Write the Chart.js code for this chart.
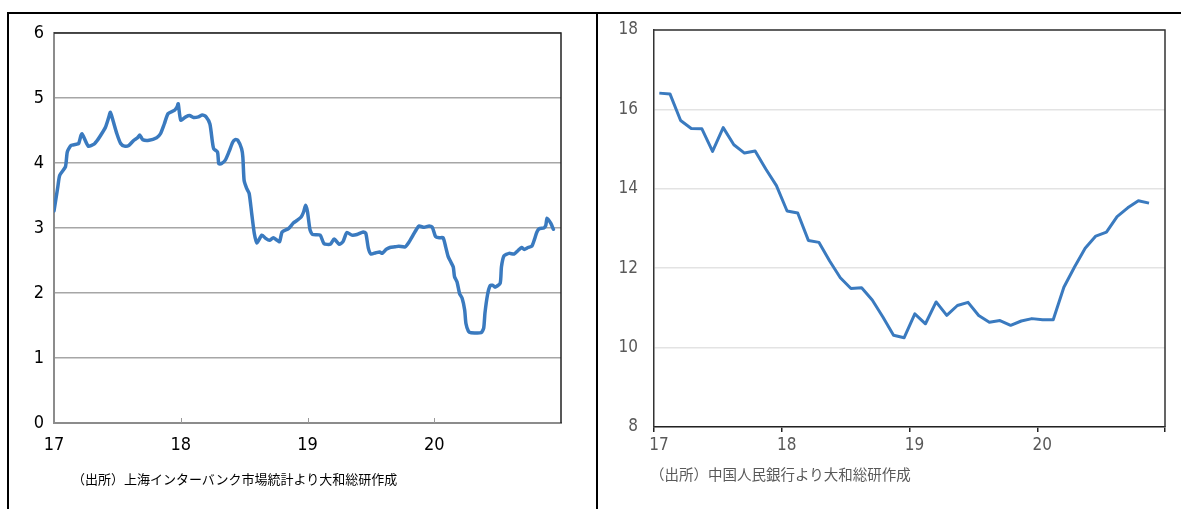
<!DOCTYPE html>
<html><head><meta charset="utf-8">
<script src="https://cdn.jsdelivr.net/npm/chart.js@4.4.1/dist/chart.umd.min.js"></script>
<style>
html,body{margin:0;padding:0;background:#fff;width:1181px;height:509px;overflow:hidden;position:relative;}
canvas{position:absolute;top:0;}
.ln{position:absolute;background:#000;}
.cap{position:absolute;font-family:"Noto Sans CJK JP",sans-serif;white-space:nowrap;}
</style></head><body>
<canvas id="c1" width="597" height="509" style="left:0;width:597px;height:509px"></canvas>
<canvas id="c2" width="583" height="509" style="left:598px;width:583px;height:509px"></canvas>
<div class="ln" style="left:8px;top:12px;width:1173px;height:2px"></div>
<div class="ln" style="left:7px;top:12px;width:2px;height:497px"></div>
<div class="ln" style="left:596px;top:12px;width:2px;height:497px"></div>
<div class="cap" style="left:72px;top:469px;font-size:13px;color:#000">（出所）上海インターバンク市場統計より大和総研作成</div>
<div class="cap" style="left:650px;top:463px;font-size:14.5px;color:#595959">（出所）中国人民銀行より大和総研作成</div>
<script>
// Left panel: interbank rate (%), x = fractional year
const leftDates = [2017.00,2017.03,2017.045,2017.09,2017.105,2017.135,2017.18,2017.195,2017.22,2017.27,2017.316,2017.346,2017.376,2017.406,2017.43,2017.445,2017.466,2017.496,2017.526,2017.556,2017.59,2017.63,2017.66,2017.677,2017.70,2017.75,2017.81,2017.84,2017.87,2017.90,2017.95,2017.97,2017.98,2018.00,2018.04,2018.07,2018.10,2018.14,2018.17,2018.20,2018.23,2018.25,2018.26,2018.29,2018.30,2018.32,2018.35,2018.38,2018.41,2018.43,2018.45,2018.48,2018.49,2018.50,2018.52,2018.54,2018.56,2018.58,2018.60,2018.64,2018.67,2018.70,2018.73,2018.76,2018.78,2018.80,2018.85,2018.89,2018.92,2018.95,2018.97,2018.985,2019.00,2019.02,2019.04,2019.10,2019.13,2019.18,2019.21,2019.25,2019.28,2019.31,2019.35,2019.39,2019.44,2019.46,2019.48,2019.50,2019.54,2019.57,2019.59,2019.62,2019.65,2019.69,2019.72,2019.77,2019.80,2019.83,2019.86,2019.88,2019.92,2019.96,2019.985,2020.01,2020.04,2020.07,2020.09,2020.11,2020.13,2020.15,2020.16,2020.18,2020.20,2020.22,2020.24,2020.25,2020.27,2020.29,2020.37,2020.39,2020.40,2020.42,2020.44,2020.46,2020.48,2020.52,2020.53,2020.55,2020.59,2020.63,2020.66,2020.69,2020.71,2020.74,2020.77,2020.79,2020.81,2020.83,2020.865,2020.88,2020.89,2020.92,2020.94];
const leftRates = [3.26,3.63,3.81,3.94,4.17,4.27,4.29,4.30,4.45,4.26,4.29,4.36,4.45,4.55,4.69,4.78,4.65,4.45,4.30,4.26,4.27,4.35,4.39,4.43,4.36,4.35,4.39,4.45,4.60,4.76,4.81,4.86,4.91,4.66,4.71,4.73,4.70,4.71,4.74,4.71,4.60,4.32,4.22,4.17,3.99,3.99,4.04,4.17,4.32,4.36,4.35,4.22,4.09,3.73,3.61,3.53,3.22,2.92,2.77,2.89,2.84,2.81,2.85,2.81,2.79,2.94,2.99,3.08,3.12,3.17,3.25,3.35,3.25,2.97,2.90,2.89,2.76,2.75,2.83,2.75,2.79,2.93,2.89,2.90,2.94,2.92,2.69,2.60,2.62,2.63,2.61,2.67,2.70,2.71,2.72,2.71,2.78,2.88,2.98,3.03,3.01,3.03,3.01,2.87,2.85,2.85,2.71,2.56,2.48,2.40,2.25,2.17,1.99,1.92,1.74,1.53,1.41,1.39,1.39,1.46,1.69,1.97,2.11,2.12,2.09,2.15,2.40,2.57,2.61,2.60,2.65,2.70,2.67,2.70,2.72,2.82,2.94,2.99,3.00,3.04,3.15,3.07,2.98];
const leftTicks = [0,1,2,3,4,5,6];

// Right panel: monthly growth (%), Jan 2017 .. Nov 2020
const rightStartYear = 2017;
const rightValues = [16.41,16.39,15.72,15.52,15.51,14.94,15.54,15.11,14.90,14.95,14.50,14.08,13.44,13.39,12.70,12.65,12.18,11.76,11.49,11.51,11.20,10.77,10.31,10.25,10.85,10.60,11.15,10.81,11.06,11.14,10.81,10.64,10.68,10.56,10.67,10.73,10.70,10.70,11.52,12.03,12.50,12.81,12.91,13.30,13.52,13.70,13.64];
const rightTicks = [8,10,12,14,16,18];
const yearTicks = [2017,2018,2019,2020,2021];

const BLUE = '#3a7abf';
const NARROW = "'Liberation Sans Narrow','DejaVu Sans Condensed',sans-serif";

const framePlugin = {
  id:'frame',
  afterDraw(chart, args, opts){
    const {ctx, chartArea:a} = chart;
    ctx.save();
    ctx.strokeStyle = opts.color; ctx.lineWidth = opts.width;
    ctx.beginPath();
    ctx.moveTo(a.left, a.top); ctx.lineTo(a.right, a.top); ctx.lineTo(a.right, a.bottom);
    ctx.stroke();
    if (opts.innerTicks) {
      const xs = chart.scales.x;
      ctx.strokeStyle = opts.innerTickColor; ctx.lineWidth = 1;
      for (const v of yearTicks.slice(1,-1)) {
        const px = Math.round(xs.getPixelForValue(v)) + 0.5;
        ctx.beginPath(); ctx.moveTo(px, a.bottom); ctx.lineTo(px, a.bottom - 5); ctx.stroke();
      }
    }
    ctx.restore();
  }
};

new Chart(document.getElementById('c1'), {
  type:'line',
  data:{datasets:[{data:leftDates.map((d,i)=>({x:d,y:leftRates[i]})),borderColor:BLUE,borderWidth:3.5,pointRadius:0,tension:0.2,borderJoinStyle:'round',borderCapStyle:'round'}]},
  options:{
    responsive:false, animation:false,
    layout:{padding:{left:10,right:36,top:33,bottom:46}},
    plugins:{legend:{display:false},tooltip:{enabled:false},frame:{color:'#222',width:1.5,innerTicks:true,innerTickColor:'#999'}},
    scales:{
      x:{type:'linear',min:2017,max:2021,afterFit:s=>{s.height=40;},
        afterBuildTicks:s=>{s.ticks=yearTicks.map(v=>({value:v}));},
        ticks:{callback:v=>v<2021?String(v-2000):'',color:'#000',font:{family:NARROW,size:18},padding:4,maxRotation:0,autoSkip:false},
        grid:{display:false},border:{display:true,color:'#8c8c8c',width:2}},
      y:{min:0,max:6,afterFit:s=>{s.width=44;},
        afterBuildTicks:s=>{s.ticks=leftTicks.map(v=>({value:v}));},
        ticks:{color:'#000',font:{family:NARROW,size:18},padding:10},
        grid:{color:'#a6a6a6',lineWidth:1.5,drawTicks:false},border:{color:'#8c8c8c',width:2}}
    }
  },
  plugins:[framePlugin]
});

new Chart(document.getElementById('c2'), {
  type:'line',
  data:{datasets:[{data:rightValues.map((v,i)=>({x:rightStartYear+(i+0.5)/12,y:v})),borderColor:BLUE,borderWidth:3,pointRadius:0,tension:0,borderJoinStyle:'round'}]},
  options:{
    responsive:false, animation:false,
    layout:{padding:{left:6,right:16,top:30,bottom:42}},
    plugins:{legend:{display:false},tooltip:{enabled:false},frame:{color:'#333',width:1.5,innerTicks:false}},
    scales:{
      x:{type:'linear',min:2017,max:2021,afterFit:s=>{s.height=40;},
        afterBuildTicks:s=>{s.ticks=yearTicks.map(v=>({value:v}));},
        ticks:{callback:v=>v<2021?String(v-2000):'',color:'#595959',font:{family:NARROW,size:17},padding:3,labelOffset:5,maxRotation:0,autoSkip:false},
        grid:{drawOnChartArea:false,drawTicks:true,tickLength:5,color:'#222',lineWidth:1.5},border:{display:true,color:'#222',width:1.5}},
      y:{min:8,max:18,afterFit:s=>{s.width=50;},
        afterBuildTicks:s=>{s.ticks=rightTicks.map(v=>({value:v}));},
        ticks:{color:'#595959',font:{family:NARROW,size:17},padding:16},
        grid:{color:'#e3e3e3',lineWidth:1.5,drawTicks:false},border:{color:'#333',width:1.5}}
    }
  },
  plugins:[framePlugin]
});
</script>
</body></html>
